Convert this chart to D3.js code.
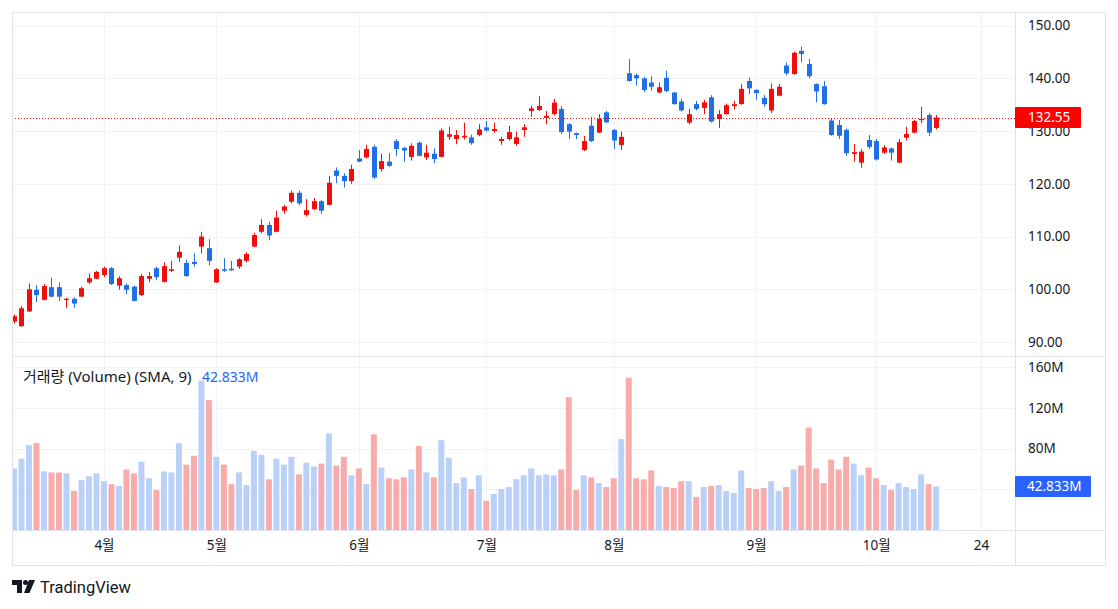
<!DOCTYPE html>
<html><head><meta charset="utf-8">
<script src="https://cdn.jsdelivr.net/npm/d3@7"></script>
<style>
body{margin:0;background:#fff;}
svg{display:block;font-family:"Noto Sans","Noto Sans CJK KR",sans-serif;}
</style>
</head><body>
<svg id="c" width="1118" height="609"></svg>
<script>
// ---- data ----
const opens  = [93.9,93.0,95.8,99.9,98.0,100.4,100.4,98.0,98.2,98.6,101.3,102.0,102.7,104.0,100.7,100.8,100.5,98.9,102.0,104.0,101.4,103.5,106.0,105.0,105.2,108.1,107.8,101.3,103.8,103.9,104.3,105.4,108.1,110.9,112.2,110.9,114.9,116.6,118.3,114.1,115.2,116.7,116.0,122.5,121.5,120.5,124.8,125.0,127.0,122.8,124.2,128.1,126.8,125.1,127.8,125.0,125.7,125.1,128.9,128.5,128.8,128.8,129.25,130.7,130.0,128.1,128.5,127.55,130.2,133.8,134.0,132.5,133.2,134.2,131.3,129.6,126.4,131.0,129.7,133.55,130.2,127.35,140.95,140.6,140.0,139.2,137.3,140.1,137.3,135.6,131.6,135.1,134.4,136.4,132.3,133.2,134.75,135.1,139.5,137.8,136.3,133.9,136.7,142.4,140.8,145.2,142.7,138.9,138.5,132.0,131.15,130.2,125.65,124.0,128.3,128.1,125.9,126.7,124.0,128.74,129.7,132.1,133.05,130.6];
const highs  = [95.2,96.8,101.1,100.8,101.0,102.2,101.3,98.4,98.5,100.5,103.0,103.5,104.3,104.2,102.5,101.1,100.7,102.9,103.3,104.3,105.1,105.4,108.3,105.6,106.8,110.9,109.5,104.0,105.9,105.4,105.9,107.0,110.7,113.3,112.8,114.9,116.0,118.7,118.7,117.1,117.3,116.9,121.5,123.1,122.0,123.6,126.4,127.4,127.4,125.7,125.8,128.5,127.0,127.7,128.0,127.4,126.7,130.5,130.8,130.2,131.6,129.3,131.3,131.9,131.6,128.9,131.0,129.9,131.3,134.8,136.6,133.8,136.1,134.75,131.5,129.7,129.06,132.7,133.2,133.8,130.4,129.9,143.65,140.95,140.2,140.4,139.2,141.45,137.4,136.1,134.2,135.7,135.9,136.8,134.0,135.2,135.75,138.9,140.1,137.9,136.8,139.05,138.9,143.0,145.05,146.0,143.65,139.05,139.5,132.3,132.1,130.5,127.55,126.6,129.25,128.5,127.35,126.85,128.5,130.8,132.1,134.6,133.4,133.05];
const lows   = [93.5,92.9,95.7,97.6,97.9,98.5,97.8,96.5,96.5,98.5,101.0,101.9,102.3,100.8,99.9,99.1,97.7,98.7,101.3,101.8,101.3,103.3,105.2,102.4,104.3,106.8,104.5,101.2,103.3,103.5,103.9,105.1,108.0,110.6,109.3,110.8,114.3,116.3,115.9,113.8,115.0,114.3,115.9,120.1,119.3,120.0,124.1,124.8,120.9,122.3,123.2,125.3,124.2,124.4,125.2,124.5,123.9,125.0,128.3,127.5,128.4,127.4,129.0,129.9,129.7,127.4,128.2,127.2,128.9,132.7,133.8,131.3,133.0,129.4,128.5,128.5,126.2,127.9,129.6,131.5,126.6,126.4,139.35,138.6,137.35,137.65,137.15,137.35,135.0,133.7,131.3,133.9,133.2,131.6,130.6,133.1,134.1,135.0,137.0,135.9,134.6,133.4,136.6,140.6,140.7,143.0,140.0,135.45,135.0,129.1,128.5,125.3,124.2,123.05,126.55,124.4,125.65,124.4,123.95,128.2,129.6,131.5,129.06,130.3];
const closes = [94.9,96.4,100.0,98.9,100.6,98.6,98.6,98.2,97.3,100.2,102.1,103.3,104.0,101.0,102.1,99.9,97.8,102.5,102.5,102.3,104.4,103.8,107.1,102.5,104.8,110.0,105.4,103.8,103.5,103.6,105.7,106.7,110.3,112.2,110.2,113.6,115.7,118.3,116.3,115.0,116.7,114.9,120.2,121.5,120.5,122.8,124.2,126.6,121.2,124.3,123.4,126.6,126.3,127.2,125.3,125.9,124.7,130.1,129.4,129.25,129.1,127.7,130.3,130.1,130.4,128.5,129.8,128.8,130.7,134.3,134.75,132.85,135.4,129.8,129.9,129.25,128.1,128.1,132.3,131.65,128.2,128.9,139.5,140.0,137.8,138.4,138.3,137.6,135.1,133.9,133.2,134.2,135.45,131.8,133.2,134.9,135.1,138.0,138.1,137.2,135.1,138.0,138.4,140.95,144.85,144.6,140.4,137.5,135.1,129.25,129.1,125.8,126.0,126.1,127.0,124.6,126.9,125.9,127.9,129.44,131.9,132.3,129.7,132.55];
// volume in millions
const volumes = [60.5,70.1,83.5,85.4,57.6,56.6,56.6,55.7,38.4,49.0,52.8,55.7,48.0,45.1,43.2,59.5,55.7,67.2,50.9,39.4,57.6,56.6,85.4,64.3,73.0,146.9,127.7,72.0,64.3,45.1,56.6,44.2,77.8,73.9,49.9,70.1,64.3,72.0,54.7,66.2,62.4,65.3,95.0,63.4,72.0,53.8,60.5,45.1,94.1,61.4,50.9,49.9,51.8,59.5,82.6,56.6,51.8,88.3,71.0,46.1,51.8,40.3,53.8,28.8,35.5,40.3,42.2,49.9,53.8,60.5,53.8,54.7,53.8,59.5,130.6,39.4,53.8,51.8,46.1,42.2,50.9,89.3,149.8,50.9,49.9,58.6,43.2,42.2,41.3,48.0,48.0,32.6,42.2,43.2,44.2,38.4,36.5,58.6,41.3,40.3,41.3,48.0,38.4,42.2,59.5,63.4,100.8,60.5,46.1,69.1,59.5,72.0,65.3,53.8,61.4,50.9,44.2,39.4,46.1,42.2,40.3,54.7,45.1,42.833];
const monthTickIdx = [12,27,46,63,80,99,115,129];
const monthLabels  = ["4월","5월","6월","7월","8월","9월","10월","24"];
const priceTicks = [90,100,110,120,130,140,150];
const volGridTicks = [40,80,120,160];
const volLabelTicks = [80,120,160];
const lastPrice = 132.55;
const lastVolumeText = "42.833M";
const legendText = "거래량 (Volume) (SMA, 9)";

// ---- layout ----
const L=12, R=1015, AR=1105, T=12, SEP=356, VB=530, BOT=565;
const UP="#f20d0d", DOWN="#1f6fe6", UPV="#b9d0f8", DOWNV="#f8abab";
const GRID="#f0f3fa", BORDER="#e0e3eb", TXT="#131722";
const FONT='"Noto Sans","Noto Sans CJK KR",sans-serif';

const svg = d3.select("#c");
const x = d3.scaleLinear().domain([0,123]).range([14, 936.1]);
const y = d3.scaleLinear().domain([90,150]).range([342.05, 25.55]);
const yv = d3.scaleLinear().domain([0,160]).range([VB, 367.3]);

const defs = svg.append("defs");
defs.append("clipPath").attr("id","cp").append("rect").attr("x",L).attr("y",T).attr("width",R-L).attr("height",SEP-T);
defs.append("clipPath").attr("id","cv").append("rect").attr("x",L).attr("y",SEP).attr("width",R-L).attr("height",VB-SEP);

// grids
const g = svg.append("g");
g.selectAll(".hg").data(priceTicks).join("line")
  .attr("x1",L).attr("x2",R).attr("y1",d=>Math.round(y(d))+0.5).attr("y2",d=>Math.round(y(d))+0.5)
  .attr("stroke",GRID);
g.selectAll(".vg").data(volGridTicks).join("line")
  .attr("x1",L).attr("x2",R).attr("y1",d=>Math.round(yv(d))+0.5).attr("y2",d=>Math.round(yv(d))+0.5)
  .attr("stroke",GRID);
g.selectAll(".mg").data(monthTickIdx).join("line")
  .attr("x1",d=>Math.round(x(d))+0.5).attr("x2",d=>Math.round(x(d))+0.5).attr("y1",T).attr("y2",VB)
  .attr("stroke",GRID);

const idx = d3.range(opens.length);

// volume bars
svg.append("g").attr("clip-path","url(#cv)").selectAll("rect").data(idx).join("rect")
  .attr("x",i=>x(i)-3).attr("width",6)
  .attr("y",i=>yv(volumes[i])).attr("height",i=>VB-yv(volumes[i]))
  .attr("fill",i=>closes[i]>=opens[i]?UPV:DOWNV);

// candles
const cg = svg.append("g").attr("clip-path","url(#cp)");
cg.selectAll("line").data(idx).join("line")
  .attr("x1",i=>Math.round(x(i))+0.5).attr("x2",i=>Math.round(x(i))+0.5)
  .attr("y1",i=>y(highs[i])).attr("y2",i=>y(lows[i]))
  .attr("stroke",i=>closes[i]>=opens[i]?UP:DOWN).attr("stroke-width",1);
cg.selectAll("rect").data(idx).join("rect")
  .attr("x",i=>Math.round(x(i))-2).attr("width",5)
  .attr("y",i=>y(Math.max(opens[i],closes[i])))
  .attr("height",i=>Math.max(1.2,Math.abs(y(opens[i])-y(closes[i]))))
  .attr("fill",i=>closes[i]>=opens[i]?UP:DOWN);

// last price dotted line
svg.append("line").attr("x1",L).attr("x2",R)
  .attr("y1",Math.round(y(lastPrice))+0.5).attr("y2",Math.round(y(lastPrice))+0.5)
  .attr("stroke",UP).attr("stroke-dasharray","1,2");

// borders
const bd = svg.append("g").attr("stroke",BORDER).attr("fill","none");
bd.append("rect").attr("x",L+0.5).attr("y",T+0.5).attr("width",AR-L).attr("height",BOT-T);
bd.append("line").attr("x1",L).attr("x2",AR).attr("y1",SEP+0.5).attr("y2",SEP+0.5);
bd.append("line").attr("x1",L).attr("x2",AR).attr("y1",VB+0.5).attr("y2",VB+0.5);
bd.append("line").attr("x1",R+0.5).attr("x2",R+0.5).attr("y1",T).attr("y2",BOT);

// axes
const pa = svg.append("g").attr("transform",`translate(${R},0)`)
  .call(d3.axisRight(y).tickValues(priceTicks).tickFormat(d3.format(".2f")).tickSize(0).tickPadding(13));
const va = svg.append("g").attr("transform",`translate(${R},0)`)
  .call(d3.axisRight(yv).tickValues(volLabelTicks).tickFormat(d=>d+"M").tickSize(0).tickPadding(13));
const ta = svg.append("g").attr("transform",`translate(0,${VB})`)
  .call(d3.axisBottom(x).tickValues(monthTickIdx).tickFormat((d,i)=>monthLabels[i]).tickSize(0).tickPadding(10));
[pa,va,ta].forEach(a=>{
  a.select(".domain").remove();
  a.selectAll("text").attr("fill",TXT).style("font-size","13.5px").style("font-family",FONT);
});

// last price label
const ly = y(lastPrice);
svg.append("rect").attr("x",R).attr("y",ly-10.5).attr("width",66).attr("height",21).attr("fill","#ff0000").attr("rx",1);
svg.append("text").attr("x",R+13).attr("y",ly).attr("dy","0.35em").attr("fill","#fff")
  .style("font-size","13.5px").text(d3.format(".2f")(lastPrice));

// last volume label
const lvy = yv(volumes[volumes.length-1]);
svg.append("rect").attr("x",R).attr("y",lvy-10.5).attr("width",76).attr("height",21).attr("fill","#2962ff").attr("rx",1);
svg.append("text").attr("x",R+12).attr("y",lvy).attr("dy","0.35em").attr("fill","#fff")
  .style("font-size","13.5px").text(lastVolumeText);

// legend
svg.append("text").attr("x",23).attr("y",382).attr("fill",TXT).style("font-size","15px").text(legendText);
svg.append("text").attr("x",202).attr("y",382).attr("fill","#2962ff").style("font-size","14px").text(lastVolumeText);

// TradingView logo
const lg = svg.append("g").attr("transform","translate(12,580)").attr("fill","#131722");
lg.append("path").attr("d","M0 0H10V13H5V5H0Z");
lg.append("circle").attr("cx",13.5).attr("cy",2.5).attr("r",2.5);
lg.append("path").attr("d","M17 0H23L17.5 13H12Z");
svg.append("text").attr("x",40).attr("y",593).attr("fill","#131722")
  .style("font-size","16.5px").style("font-family",'Roboto,sans-serif').text("TradingView");
</script>
</body></html>
